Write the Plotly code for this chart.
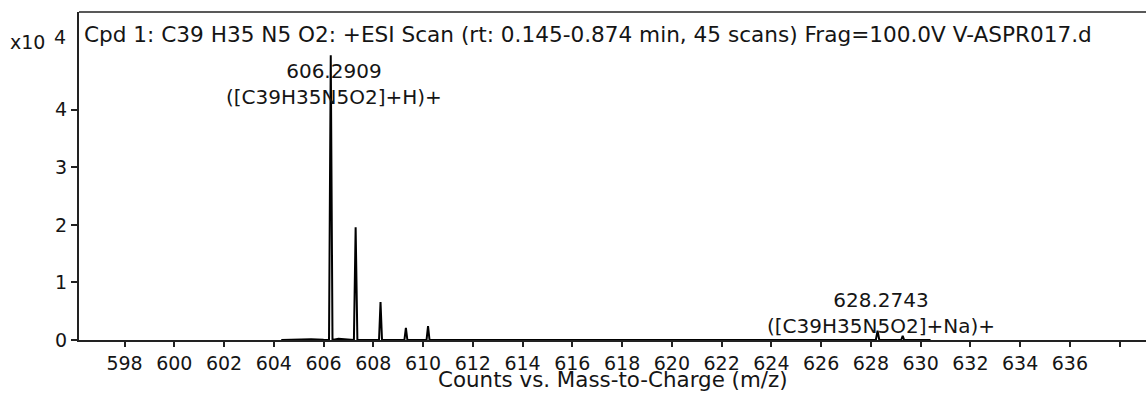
import plotly.graph_objects as go

# ---- data ----
spectrum_mz = [604.30, 605.00, 605.30, 605.40, 605.50, 606.00, 606.22, 606.29, 606.36,
               606.60, 607.00, 607.22, 607.29, 607.36, 608.23, 608.29, 608.35,
               609.25, 609.31, 609.37, 610.14, 610.20, 610.26, 611.00, 620.00,
               628.20, 628.27, 628.34, 629.22, 629.28, 629.34, 630.40]
spectrum_counts = [0.00, 0.005, 0.015, 0.005, 0.015, 0.003, 0.00, 4.95, 0.00,
                   0.020, 0.010, 0.00, 1.96, 0.00, 0.00, 0.66, 0.00,
                   0.00, 0.21, 0.00, 0.00, 0.24, 0.00, 0.00, 0.00,
                   0.00, 0.16, 0.00, 0.00, 0.07, 0.00, 0.00]

labelled_mz = [606.2909, 628.2743]
labelled_text = ["606.2909<br>([C39H35N5O2]+H)+", "628.2743<br>([C39H35N5O2]+Na)+"]
labelled_y = [4.45, 0.47]

x_ticks = list(range(598, 640, 2))
x_ticktext = [str(v) for v in range(598, 638, 2)] + [""]
y_ticks = [0, 1, 2, 3, 4]
y_ticktext = ["0", "1", "2", "3", "4"]

title_text = "Cpd 1: C39 H35 N5 O2: +ESI Scan (rt: 0.145-0.874 min, 45 scans) Frag=100.0V V-ASPR017.d"
x_title = "Counts vs. Mass-to-Charge (m/z)"

FONT = "DejaVu Sans, Liberation Sans, Arial, sans-serif"
TXT = "#151515"

fig = go.Figure()
fig.add_trace(go.Scatter(x=spectrum_mz, y=spectrum_counts, mode="lines",
                         line=dict(color="black", width=2), hoverinfo="skip",
                         showlegend=False))

for mz, txt, yy in zip(labelled_mz, labelled_text, labelled_y):
    fig.add_annotation(x=mz, y=yy, xref="x", yref="y", text=txt, showarrow=False,
                       xshift=3, font=dict(family=FONT, size=20, color=TXT), align="center")

fig.add_annotation(x=0, y=1, xref="paper", yref="paper", xanchor="left", yanchor="middle",
                   xshift=3, yshift=-22, text=title_text, showarrow=False,
                   font=dict(family=FONT, size=21.6, color=TXT))
fig.add_annotation(x=0, y=1, xref="paper", yref="paper", xanchor="right", yanchor="middle",
                   xshift=-32, yshift=-30, text="x10", showarrow=False,
                   font=dict(family=FONT, size=19, color=TXT))
fig.add_annotation(x=0, y=1, xref="paper", yref="paper", xanchor="right", yanchor="middle",
                   xshift=-11, yshift=-25, text="4", showarrow=False,
                   font=dict(family=FONT, size=19, color=TXT))
fig.add_annotation(x=0.5, y=0, xref="paper", yref="paper", xanchor="center", yanchor="middle",
                   yshift=-39, text=x_title, showarrow=False,
                   font=dict(family=FONT, size=21.4, color=TXT))

fig.add_shape(type="line", xref="paper", yref="paper", x0=0, x1=1, y0=1, y1=1,
              line=dict(color="#222", width=1.5))

fig.update_layout(
    width=1146, height=394,
    margin=dict(l=79, r=0, t=12, b=54),
    paper_bgcolor="white", plot_bgcolor="white",
    font=dict(family=FONT, size=19, color=TXT),
    xaxis=dict(range=[596.17, 639.06], tickvals=x_ticks, ticktext=x_ticktext,
               ticks="outside", ticklen=5, tickwidth=1.5, tickcolor="#222",
               tickfont=dict(size=19),
               showline=True, linecolor="#222", linewidth=2,
               showgrid=False, zeroline=False, fixedrange=True),
    yaxis=dict(range=[0, 5.7], tickvals=y_ticks, ticktext=y_ticktext,
               ticks="outside", ticklen=6, tickwidth=1.5, tickcolor="#222",
               tickfont=dict(size=19),
               showline=True, linecolor="#222", linewidth=2,
               showgrid=False, zeroline=False, fixedrange=True),
)

fig.write_html("out.html", config={"displayModeBar": False},
               post_script="document.body.style.margin='0px';")
